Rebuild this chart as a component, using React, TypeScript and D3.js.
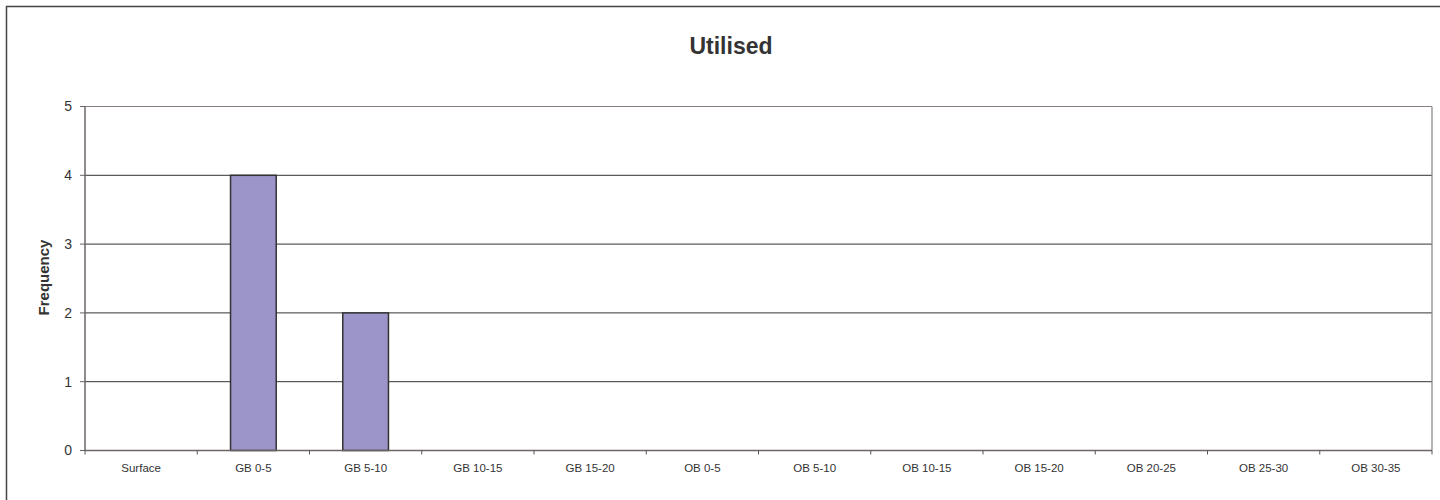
import * as d3 from 'd3';

const categories = [
  'Surface', 'GB 0-5', 'GB 5-10', 'GB 10-15', 'GB 15-20', 'OB 0-5',
  'OB 5-10', 'OB 10-15', 'OB 15-20', 'OB 20-25', 'OB 25-30', 'OB 30-35',
];
const frequency = [0, 4, 2, 0, 0, 0, 0, 0, 0, 0, 0, 0];
const yTicks = [0, 1, 2, 3, 4, 5];

const W = 1440;
const H = 500;
const plot = { left: 85, right: 1432, top: 106.5, bottom: 450.5 };
const font = '"Liberation Sans", Arial, sans-serif';

export default function App() {
  const x = d3
    .scaleBand<string>()
    .domain(categories)
    .range([plot.left, plot.right])
    .paddingInner(0.593)
    .paddingOuter(0.2965);
  const band = d3.scaleBand<string>().domain(categories).range([plot.left, plot.right]);
  const y = d3.scaleLinear().domain([0, 5]).range([plot.bottom, plot.top]);

  return (
    <svg
      width={W}
      height={H}
      style={{ position: 'absolute', left: 0, top: 0, fontFamily: font }}
    >
      <rect x={0} y={0} width={W} height={H} fill="#fff" />
      <rect x={6.5} y={6.5} width={W + 20} height={H + 20} fill="none" stroke="#444" strokeWidth={1.5} />
      <text x={731} y={54} textAnchor="middle" fontSize={23} fontWeight="bold" fill="#333">
        Utilised
      </text>

      {yTicks.map((t) => (
        <g key={t}>
          {t > 0 && t < 5 && (
            <line x1={plot.left} x2={plot.right} y1={y(t)} y2={y(t)} stroke="#333" strokeWidth={1} />
          )}
          <line x1={plot.left - 5} x2={plot.left} y1={y(t)} y2={y(t)} stroke="#666" strokeWidth={1} />
          <text x={72} y={y(t)} dy="0.35em" textAnchor="end" fontSize={14} fill="#333">
            {t}
          </text>
        </g>
      ))}

      <line x1={plot.left} x2={plot.right} y1={plot.top} y2={plot.top} stroke="#8a7f7f" strokeWidth={1.2} />
      <line x1={plot.right} x2={plot.right} y1={plot.top} y2={plot.bottom} stroke="#8a7f7f" strokeWidth={1.2} />
      <line x1={plot.left} x2={plot.left} y1={plot.top} y2={plot.bottom} stroke="#6e6464" strokeWidth={1.5} />

      {categories.map((c, i) => (
        <g key={c}>
          {frequency[i] > 0 && (
            <rect
              x={x(c)}
              y={y(frequency[i])}
              width={x.bandwidth()}
              height={plot.bottom - y(frequency[i])}
              fill="#9b95c9"
              stroke="#333"
              strokeWidth={1.5}
            />
          )}
          <text
            x={band(c)! + band.bandwidth() / 2}
            y={472}
            textAnchor="middle"
            fontSize={11.5}
            fill="#333"
          >
            {c}
          </text>
        </g>
      ))}

      <line x1={plot.left} x2={plot.right} y1={plot.bottom} y2={plot.bottom} stroke="#6e6464" strokeWidth={1.5} />
      {categories.concat(['end']).map((c, i) => {
        const xx = plot.left + i * band.step();
        return <line key={c} x1={xx} x2={xx} y1={plot.bottom} y2={plot.bottom + 4} stroke="#555" strokeWidth={1} />;
      })}

      <text
        transform={`translate(49,277.5) rotate(-90)`}
        textAnchor="middle"
        fontSize={15}
        fontWeight="bold"
        fill="#333"
      >
        Frequency
      </text>
    </svg>
  );
}
